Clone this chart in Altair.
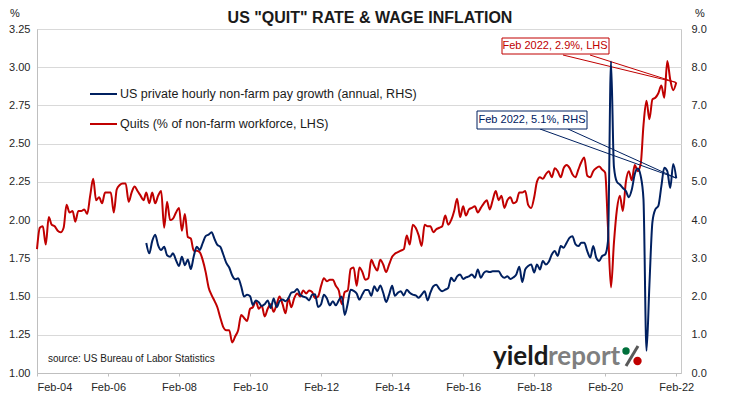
import altair as alt
import pandas as pd

# ---------------- data ----------------
QUITS_START = "2004-02-01"   # monthly, Feb 2004 .. Feb 2022 (LHS, %)
quits = [
    1.81, 1.95, 1.96, 1.84, 2.02, 1.97, 1.96, 1.93, 1.92, 1.95, 2.10, 2.05,
    2.06, 1.99, 2.06, 2.06, 2.07, 2.04, 2.16, 2.27, 2.13, 2.15, 2.11, 2.18,
    2.18, 2.18, 2.05, 2.20, 2.23, 2.24, 2.24, 2.12, 2.18, 2.22, 2.19, 2.16,
    2.13, 2.18, 2.11, 2.18, 2.11, 2.16, 2.19, 1.95, 2.12, 2.00, 2.01, 2.05,
    2.08, 1.93, 2.04, 1.89, 1.88, 1.80, 1.80, 1.79, 1.74, 1.66, 1.56, 1.51,
    1.47, 1.43, 1.36, 1.30, 1.28, 1.28, 1.20, 1.24, 1.28, 1.38, 1.36, 1.34,
    1.42, 1.43, 1.47, 1.42, 1.44, 1.37, 1.42, 1.45, 1.40, 1.45, 1.50, 1.45,
    1.39, 1.49, 1.43, 1.49, 1.52, 1.50, 1.54, 1.52, 1.54, 1.53, 1.49, 1.50,
    1.57, 1.62, 1.60, 1.61, 1.61, 1.57, 1.54, 1.45, 1.53, 1.54, 1.68, 1.69,
    1.57, 1.69, 1.66, 1.61, 1.62, 1.74, 1.70, 1.67, 1.74, 1.71, 1.66, 1.71,
    1.76, 1.78, 1.79, 1.80, 1.81, 1.90, 1.84, 1.97, 1.95, 1.90, 1.83, 1.97,
    1.96, 1.96, 1.92, 1.94, 1.95, 1.96, 2.03, 1.97, 2.00, 2.06, 2.14, 2.02,
    2.09, 2.03, 2.07, 2.08, 2.09, 2.05, 2.08, 2.11, 2.13, 2.07, 2.13, 2.19,
    2.13, 2.16, 2.08, 2.13, 2.15, 2.11, 2.12, 2.18, 2.18, 2.19, 2.10, 2.08,
    2.15, 2.25, 2.28, 2.27, 2.30, 2.32, 2.28, 2.34, 2.32, 2.28, 2.34, 2.36,
    2.34, 2.30, 2.28, 2.33, 2.38, 2.41, 2.29, 2.28, 2.32, 2.34, 2.35, 2.33,
    2.31, 1.95, 1.56, 1.85, 2.07, 2.16, 2.06, 2.25, 2.32, 2.26, 2.36, 2.32,
    2.37, 2.62, 2.78, 2.66, 2.79, 2.80, 2.83, 2.88, 2.80, 3.04, 2.92, 2.85, 2.90,
]

WAGE_START = "2007-03-01"    # monthly, Mar 2007 .. Feb 2022 (RHS, % y/y)
wage = [
    3.40, 3.13, 3.45, 3.62, 3.34, 3.22, 3.30, 3.08, 3.04, 3.13, 2.95,
    2.80, 3.04, 2.82, 2.97, 2.72, 3.05, 3.30, 3.22, 3.40, 3.58, 3.62, 3.68,
    3.50, 3.35, 3.30, 3.10, 2.88, 2.76, 2.55, 2.45, 2.48, 2.27, 2.00, 2.05,
    2.01, 1.78, 1.90, 1.85, 1.75, 1.80, 1.90, 1.70, 1.95, 1.72, 1.88, 1.92,
    1.88, 1.95, 2.10, 2.12, 2.20, 2.05, 2.00, 1.97, 1.90, 2.05, 2.06, 1.73,
    1.80, 2.05, 1.95, 1.77, 1.88, 1.77, 1.90, 2.00, 1.52, 1.82, 2.18, 2.15,
    2.08, 1.92, 2.06, 2.17, 2.17, 2.02, 2.27, 2.14, 2.29, 2.10, 1.86, 2.05,
    2.28, 2.02, 2.10, 2.14, 2.03, 2.18, 2.10, 2.05, 2.03, 1.97, 2.05, 2.14,
    1.90, 2.10, 2.27, 2.31, 2.20, 2.14, 2.18, 2.23, 2.49, 2.40, 2.53, 2.58,
    2.46, 2.50, 2.53, 2.58, 2.49, 2.71, 2.49, 2.62, 2.66, 2.64, 2.66, 2.66,
    2.66, 2.55, 2.49, 2.53, 2.46, 2.50, 2.58, 2.78, 2.38, 2.71, 2.80, 2.84,
    2.63, 2.84, 2.71, 2.93, 2.84, 2.91, 3.10, 3.19, 3.06, 3.32, 3.28, 3.41,
    3.54, 3.58, 3.37, 3.32, 3.41, 3.41, 3.19, 3.02, 3.32, 3.02, 2.93, 3.06,
    3.10, 3.45, 8.15, 5.40, 5.00, 4.93, 4.84, 4.76, 4.60, 4.80, 5.20, 5.35,
    5.15, 4.55, 0.58, 2.30, 3.95, 4.28, 4.37, 4.89, 5.37, 5.28, 4.84, 5.47, 5.10,
]

left_ticks = [1.00, 1.25, 1.50, 1.75, 2.00, 2.25, 2.50, 2.75, 3.00, 3.25]
right_ticks = [0, 1, 2, 3, 4, 5, 6, 7, 8, 9]
x_tick_years = [2004, 2006, 2008, 2010, 2012, 2014, 2016, 2018, 2020, 2022]

last_date = "2022-02-01"
last_quits = 2.9
last_wage = 5.1

title_text = 'US "QUIT" RATE & WAGE INFLATION'
legend_wage = "US private hourly non-farm pay growth (annual, RHS)"
legend_quits = "Quits (% of non-farm workforce, LHS)"
note_quits = "Feb 2022, 2.9%, LHS"
note_wage = "Feb 2022, 5.1%, RHS"
source_text = "source: US Bureau of Labor Statistics"

RED = "#c00000"
BLUE = "#002060"
FONT = "Liberation Sans"

# ---------------- tables ----------------
qdf = pd.DataFrame({
    "date": pd.date_range(QUITS_START, periods=len(quits), freq="MS").strftime("%Y-%m-%d"),
    "quits": quits,
})
wdf = pd.DataFrame({
    "date": pd.date_range(WAGE_START, periods=len(wage), freq="MS").strftime("%Y-%m-%d"),
    "wage": wage,
})
q_last = pd.DataFrame({"date": [last_date], "quits": [last_quits]})
w_last = pd.DataFrame({"date": [last_date], "wage": [last_wage]})
one = pd.DataFrame({"a": [0]})

W, H = 644, 344

x_enc = alt.X(
    "date:T",
    scale=alt.Scale(
        type="utc",
        domain=[alt.DateTime(year=2004, month=2, date=1, utc=True),
                alt.DateTime(year=2022, month=3, date=22, utc=True)],
    ),
    axis=alt.Axis(
        values=[alt.DateTime(year=y, month=2, date=1, utc=True) for y in x_tick_years],
        labelExpr="utcFormat(datum.value, '%b-%y')",
        title=None, grid=False, ticks=True, tickSize=3, tickColor="#bfbfbf",
        domainColor="#bfbfbf", labelPadding=5, labelFontSize=11,
    ),
)
yl_enc = alt.Y(
    "quits:Q",
    scale=alt.Scale(domain=[1.0, 3.25], nice=False, zero=False),
    axis=alt.Axis(values=left_ticks, format=".2f", title=None, grid=True,
                  gridColor="#d9d9d9", ticks=False, domainColor="#bfbfbf",
                  labelPadding=7, labelFontSize=11),
)
yr_enc = alt.Y(
    "wage:Q",
    scale=alt.Scale(domain=[0, 9], nice=False, zero=False),
    axis=alt.Axis(values=right_ticks, format=".1f", title=None, grid=False,
                  orient="right", ticks=False, domain=False,
                  labelPadding=10, labelFontSize=11),
)

red_line = alt.Chart(qdf).mark_line(color=RED, strokeWidth=2, interpolate="monotone").encode(x=x_enc, y=yl_enc)
blue_line = alt.Chart(wdf).mark_line(color=BLUE, strokeWidth=2, interpolate="monotone").encode(x=x_enc, y=yr_enc)

# callout leader lines (from data point to box)
red_lead = [
    alt.Chart(q_last).mark_rule(color=RED, strokeWidth=1).encode(
        x=x_enc, y=yl_enc, x2=alt.value(px), y2=alt.value(26))
    for px in (526, 553)
]
blue_lead = [
    alt.Chart(w_last).mark_rule(color=BLUE, strokeWidth=1).encode(
        x=x_enc, y=yr_enc, x2=alt.value(px), y2=alt.value(100))
    for px in (503, 531)
]

left_layer = alt.layer(red_line, *red_lead)
right_layer = alt.layer(blue_line, *blue_lead)


def txt(text, x, y, size=12, color="#1a1a1a", align="left", bold=False, baseline="middle", font=FONT):
    return alt.Chart(one).mark_text(
        text=text, align=align, baseline=baseline, fontSize=size, color=color,
        font=font, fontWeight="bold" if bold else "normal",
    ).encode(x=alt.value(x), y=alt.value(y))


def box(x1, x2, y1, y2, color):
    return alt.Chart(one).mark_rect(fill="white", stroke=color, strokeWidth=1).encode(
        x=alt.value(x1), x2=alt.value(x2), y=alt.value(y1), y2=alt.value(y2))


def seg(x1, x2, y, color, width=2, y2=None):
    enc = dict(x=alt.value(x1), x2=alt.value(x2), y=alt.value(y))
    if y2 is not None:
        enc["y2"] = alt.value(y2)
    return alt.Chart(one).mark_rule(color=color, strokeWidth=width).encode(**enc)


def dot(x, y, size, color):
    return alt.Chart(one).mark_point(filled=True, shape="circle", size=size, color=color, opacity=1).encode(
        x=alt.value(x), y=alt.value(y))


deco = [
    txt(title_text, 333, -6, size=16, bold=True, align="center", baseline="alphabetic"),
    txt("%", -22, -15, size=11, align="center"),
    txt("%", 663, -15, size=11, align="center"),
    seg(53, 80, 65, BLUE),
    seg(53, 80, 95, RED),
    txt(legend_wage, 83, 65, size=12.5),
    txt(legend_quits, 83, 95, size=12.5),
    box(465, 572, 9, 25, RED),
    txt(note_quits, 518, 17, size=11, color=RED, align="center"),
    box(440, 550, 82, 100, BLUE),
    txt(note_wage, 495, 91, size=11, color=BLUE, align="center"),
    txt(source_text, 11, 330, size=10),
    txt("yield", 456, 336, size=26, bold=True, color="#1a1a1a", baseline="alphabetic", font="Lato"),
    txt("report", 511, 336, size=26, bold=True, color="#7f7f7f", baseline="alphabetic", font="Lato"),
    # logo percent sign: green ring top, red ring bottom, dark slash
    seg(601, 589, 317, "#595959", width=3, y2=337),
    dot(589, 322, 55, "#00703c"),
    dot(600.5, 332, 70, "#c00000"),
]

chart = alt.layer(left_layer, right_layer, *deco).resolve_scale(y="independent").properties(
    width=W, height=H,
    autosize=alt.AutoSizeParams(type="none"),
    padding={"left": 29, "top": 21, "right": 42, "bottom": 24},
).configure_view(stroke="#c8c8c8", strokeWidth=1).configure_axis(
    labelFont=FONT, labelColor="#262626",
)

chart.save("out.html", embed_options={"renderer": "svg", "actions": False})
